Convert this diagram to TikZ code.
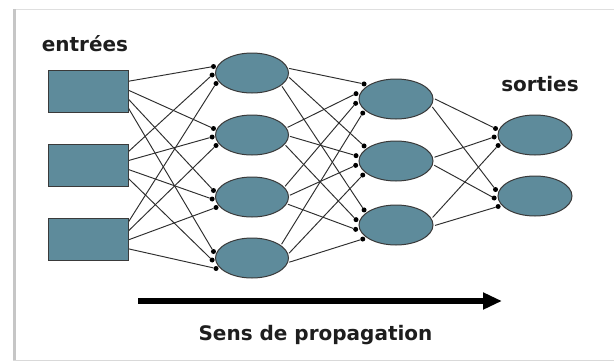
\documentclass[tikz,border=0pt]{standalone}
\usepackage{fontspec}
\setmainfont{DejaVu Sans}
\usetikzlibrary{arrows.meta,calc,shapes.geometric}
\pgfdeclarelayer{bg}
\pgfsetlayers{bg,main}
\definecolor{nodefill}{HTML}{5E8B9B}
\definecolor{nodeline}{HTML}{3A3A3A}
\definecolor{wire}{HTML}{2E2E2E}
\definecolor{txt}{HTML}{1E1E1E}
\tikzset{
  inbox/.style={draw=nodeline, fill=nodefill, line width=1pt, minimum width=80pt, minimum height=42pt, inner sep=0pt},
  neuron/.style={draw=nodeline, fill=nodefill, line width=1pt, ellipse, minimum width=73pt, minimum height=40pt, inner sep=0pt},
  syn/.style={circle, fill=black, inner sep=0pt, minimum size=5pt},
  wirestyle/.style={draw=wire, line width=0.95pt},
  lbl/.style={font=\bfseries\fontsize{20}{24}\selectfont, text=txt, inner sep=0pt, anchor=base},
  bigarrow/.style={line width=6pt, -{Triangle[length=19pt,width=16pt]}},
}
\begin{document}
\begin{tikzpicture}[x=1pt,y=-1pt]
\useasboundingbox (0,0) rectangle (614,362);
\begin{pgfonlayer}{bg}
\fill[white] (0,0) rectangle (614,362);
% frame
\draw[gray!25, line width=1pt] (13,9) -- (614,9);
\draw[gray!30, line width=1pt] (13,360) -- (614,360);
\draw[gray!45, line width=3pt] (14,9) -- (14,360);
\end{pgfonlayer}

% inputs
\node[inbox] (i1) at (88,91) {};
\node[inbox] (i2) at (88,165) {};
\node[inbox] (i3) at (88,239) {};
% hidden 1
\node[neuron] (h11) at (252,73) {};
\node[neuron] (h12) at (252,135) {};
\node[neuron] (h13) at (252,197) {};
\node[neuron] (h14) at (252,258) {};
% hidden 2
\node[neuron, minimum width=74pt] (h21) at (396,99) {};
\node[neuron, minimum width=74pt] (h22) at (396,161) {};
\node[neuron, minimum width=74pt] (h23) at (396,225) {};
% outputs
\node[neuron, minimum width=74pt] (o1) at (535,135) {};
\node[neuron, minimum width=74pt] (o2) at (535,196) {};

% inputs -> hidden 1
\foreach \s/\sy in {1/91,2/165,3/239} {
  \foreach \t/\ty in {1/73,2/135,3/197,4/258} {
    \pgfmathsetmacro\so{(\t-2.5)*9+0.05*(165.75-\sy)}
    \pgfmathsetmacro\yy{\sy+\so}
    \coordinate (a\s\t) at (128.5,\yy);
    \pgfmathsetmacro\do{(\s-2)*8.5+2}
    \pgfmathsetmacro\dx{252-40*sqrt(1-(\do/24)^2)}
    \pgfmathsetmacro\dy{\ty+\do}
    \node[syn] (b\s\t) at (\dx,\dy) {};
    \begin{pgfonlayer}{bg}
      \draw[wirestyle] (a\s\t) -- (b\s\t);
    \end{pgfonlayer}
  }
}
% hidden 1 -> hidden 2
\foreach \s/\sy in {1/73,2/135,3/197,4/258} {
  \foreach \t/\ty in {1/99,2/161,3/225} {
    \pgfmathsetmacro\so{(\t-2)*9+0.05*(161.7-\sy)}
    \pgfmathsetmacro\yy{\sy+\so}
    \pgfmathsetmacro\xx{252+38*sqrt(1-(\so/22)^2)}
    \coordinate (c\s\t) at (\xx,\yy);
    \pgfmathsetmacro\do{(\s-2.5)*9.7-0.5}
    \pgfmathsetmacro\dx{396-41*sqrt(1-(\do/24)^2)}
    \pgfmathsetmacro\dy{\ty+\do}
    \node[syn] (d\s\t) at (\dx,\dy) {};
    \begin{pgfonlayer}{bg}
      \draw[wirestyle] (c\s\t) -- (d\s\t);
    \end{pgfonlayer}
  }
}
% hidden 2 -> outputs
\foreach \s/\sy in {1/99,2/161,3/225} {
  \foreach \t/\ty in {1/135,2/196} {
    \pgfmathsetmacro\so{(\t-1.5)*8+0.06*(165.5-\sy)}
    \pgfmathsetmacro\yy{\sy+\so}
    \pgfmathsetmacro\xx{396+39*sqrt(1-(\so/22)^2)}
    \coordinate (e\s\t) at (\xx,\yy);
    \pgfmathsetmacro\do{(\s-2)*8.5+2}
    \pgfmathsetmacro\dx{535-41*sqrt(1-(\do/24)^2)}
    \pgfmathsetmacro\dy{\ty+\do}
    \node[syn] (f\s\t) at (\dx,\dy) {};
    \begin{pgfonlayer}{bg}
      \draw[wirestyle] (e\s\t) -- (f\s\t);
    \end{pgfonlayer}
  }
}

% labels
\node[lbl] (ent) at (85,51) {entrées};
\node[lbl] (sor) at (540,91) {sorties};
\coordinate (arrS) at (138,301);
\coordinate (arrE) at (502,301);
\draw[bigarrow] (arrS) -- (arrE);
\node[lbl] (sens) at (315.5,340) {Sens de propagation};
\end{tikzpicture}
\end{document}
